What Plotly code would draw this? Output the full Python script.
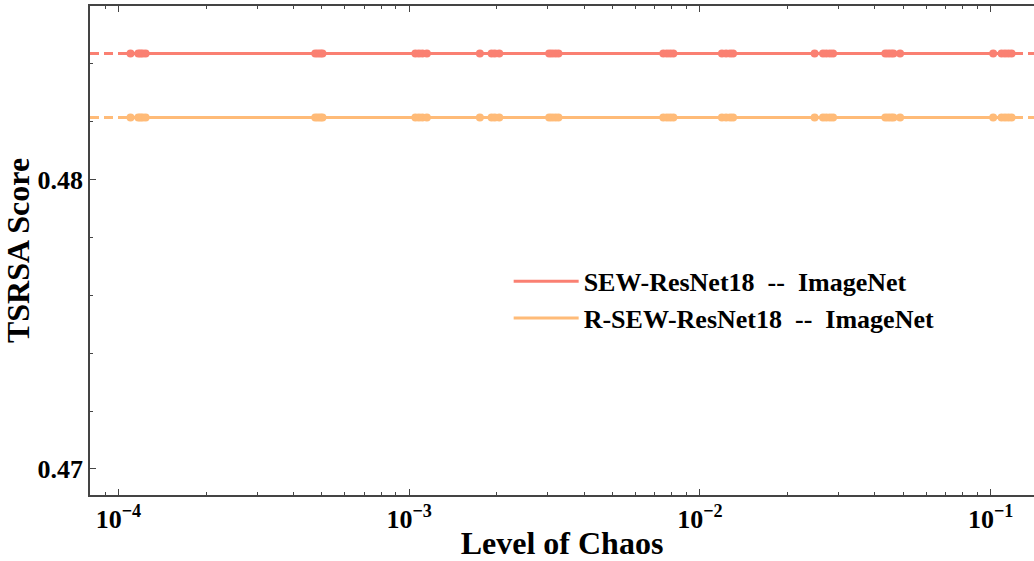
import plotly.graph_objects as go

# Data
chaos_levels = [1.10e-4, 1.17e-4, 1.19e-4, 1.21e-4, 1.24e-4,
                4.75e-4, 4.85e-4, 4.95e-4, 5.03e-4,
                1.05e-3, 1.08e-3, 1.11e-3, 1.15e-3,
                1.75e-3,
                1.92e-3, 1.97e-3, 2.04e-3,
                3.03e-3, 3.10e-3, 3.18e-3, 3.26e-3,
                7.48e-3, 7.70e-3, 7.90e-3, 8.10e-3,
                1.19e-2, 1.23e-2, 1.27e-2, 1.30e-2,
                2.48e-2,
                2.65e-2, 2.72e-2, 2.80e-2, 2.87e-2,
                4.34e-2, 4.44e-2, 4.54e-2, 4.63e-2,
                4.88e-2,
                1.02e-1,
                1.09e-1, 1.12e-1, 1.15e-1, 1.18e-1]
sew_score = 0.48436
rsew_score = 0.48215
sew_values = [sew_score] * len(chaos_levels)
rsew_values = [rsew_score] * len(chaos_levels)

series_names = ["SEW-ResNet18\u00a0\u00a0--\u00a0\u00a0ImageNet",
                "R-SEW-ResNet18\u00a0\u00a0--\u00a0\u00a0ImageNet"]
colors = ["#FA8072", "#FFBB78"]

x_range_log = [-4.098, -0.851]
y_range = [0.4691, 0.4860]
y_ticks = [0.47, 0.48]
x_ticks = [1e-4, 1e-3, 1e-2, 1e-1]
x_ticktext = ["10<sup>\u22124</sup>", "10<sup>\u22123</sup>", "10<sup>\u22122</sup>", "10<sup>\u22121</sup>"]

fig = go.Figure()
font_family = "Liberation Serif"

for vals, score, name, col in [(sew_values, sew_score, series_names[0], colors[0]),
                                (rsew_values, rsew_score, series_names[1], colors[1])]:
    # dashed reference line across the whole axis
    fig.add_trace(go.Scatter(x=[10 ** x_range_log[0], 10 ** x_range_log[1]], y=[score, score],
                             mode="lines", line=dict(color=col, width=3, dash="9px,5px"),
                             showlegend=False, hoverinfo="skip"))
    fig.add_trace(go.Scatter(x=chaos_levels, y=vals, mode="lines+markers",
                             line=dict(color=col, width=3),
                             marker=dict(color=col, size=8),
                             showlegend=False))
    fig.add_trace(go.Scatter(x=[None], y=[None], mode="lines", name=name,
                             line=dict(color=col, width=3)))

axis_common = dict(showline=True, linecolor="#444", linewidth=1.5, ticks="inside",
                   tickcolor="#444", showgrid=False, zeroline=False)

fig.update_layout(
    width=1034, height=561,
    margin=dict(l=90, r=0, t=6, b=66, autoexpand=False),
    plot_bgcolor="white", paper_bgcolor="white",
    font=dict(family=font_family, color="black"),
    showlegend=True,
    legend=dict(x=0.4435, y=0.485, xanchor="left", yanchor="top",
                bgcolor="rgba(0,0,0,0)", borderwidth=0,
                font=dict(family=font_family, size=26, color="black", weight="bold"),
                tracegroupgap=0, itemwidth=65),
    xaxis=dict(type="log", range=x_range_log, tickvals=x_ticks, ticktext=x_ticktext,
               ticklen=6, mirror="ticks", automargin=False,
               minor=dict(ticks="inside", ticklen=3, dtick="D1", tickcolor="#444", showgrid=False),
               tickfont=dict(family=font_family, size=26, color="black", weight="bold"),
               title=dict(text="Level of Chaos", standoff=4,
                          font=dict(family=font_family, size=32, color="black", weight="bold")),
               **axis_common),
    yaxis=dict(range=y_range, tickvals=y_ticks, tickformat=".2f", ticklen=6, automargin=True,
               minor=dict(ticks="inside", ticklen=3, dtick=0.002, tick0=0.47, tickcolor="#444", showgrid=False),
               tickfont=dict(family=font_family, size=26, color="black", weight="bold"),
               title=dict(text="TSRSA Score", standoff=2,
                          font=dict(family=font_family, size=32, color="black", weight="bold")),
               **axis_common),
)

fig.write_html("out.html", config={"displayModeBar": False},
               post_script="document.body.style.margin='0';document.body.style.overflow='hidden';")
